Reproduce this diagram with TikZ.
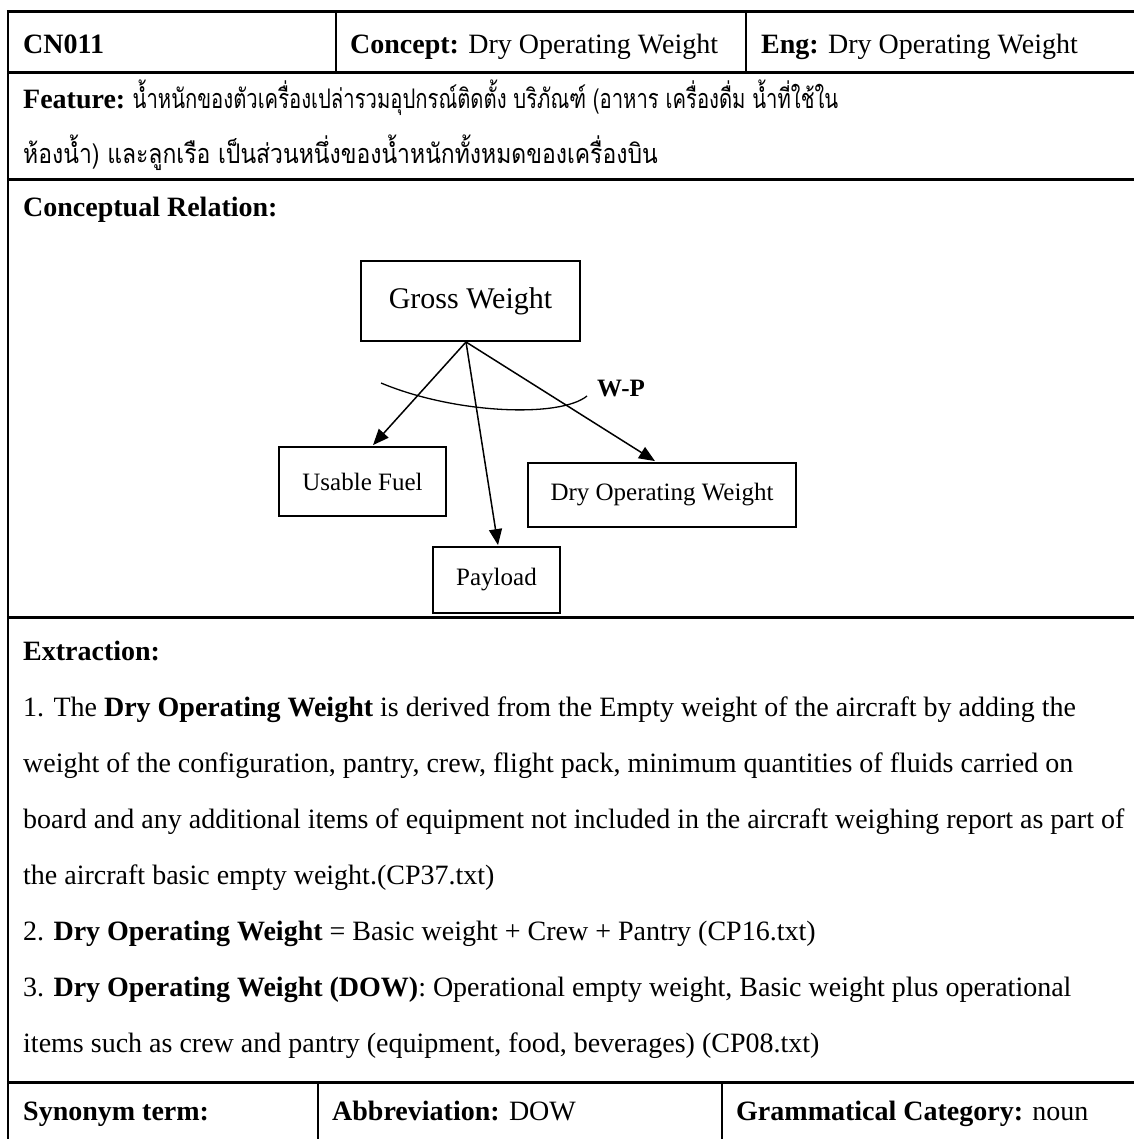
\documentclass[tikz,border=0pt]{standalone}
\usepackage{fontspec}
\setmainfont{Liberation Serif}
\newfontfamily\thaifont[Script=Thai]{Loma}
\usetikzlibrary{arrows.meta}
\begin{document}
\begin{tikzpicture}[x=1pt,y=-1pt,
  vrule/.style={line width=2.4pt},
  hrule/.style={line width=3pt},
  txt/.style={anchor=base west, inner sep=0pt, font=\fontsize{28}{34}\selectfont},
  thai/.style={txt, font=\fontsize{27}{32}\thaifont},
  cbox/.style={draw, line width=1.8pt, inner sep=0pt, font=\fontsize{25}{30}\selectfont},
  rel/.style={line width=1.5pt, -{Triangle[length=16pt,width=13pt]}},
  arcline/.style={line width=1.3pt},
]
\useasboundingbox (0,0) rectangle (1133,1139);
\fill[white] (0,0) rectangle (1133,1139);

% table frame and row separators
\draw[hrule] (6.8,12) -- (1145,12);
\draw[hrule] (6.8,73) -- (1145,73);
\draw[hrule] (6.8,180) -- (1145,180);
\draw[hrule] (6.8,617) -- (1145,617);
\draw[hrule] (6.8,1082) -- (1145,1082);
\draw[vrule] (8,10.5) -- (8,1150);
% cell dividers of the first and last rows
\draw[vrule] (336,12) -- (336,73);
\draw[vrule] (746,12) -- (746,73);
\draw[vrule] (318,1082) -- (318,1150);
\draw[vrule] (722,1082) -- (722,1150);

% first row
\node[txt] (id) at (23,54) {\textbf{CN011}};
\node[txt] (concept) at (350,54) {\textbf{Concept:} Dry Operating Weight};
\node[txt] (eng) at (761,54) {\textbf{Eng:} Dry Operating Weight};

% feature
\node[txt] (featlbl) at (23,109) {\textbf{Feature:}};
\node[thai, anchor=base west] (feat1) at ([xshift=7pt]featlbl.base east) {\scalebox{0.75}[1]{น้ำหนักของตัวเครื่องเปล่ารวมอุปกรณ์ติดตั้ง บริภัณฑ์ (อาหาร เครื่องดื่ม น้ำที่ใช้ใน}};
\node[thai] (feat2) at (23,164) {\scalebox{0.85}[1]{ห้องน้ำ) และลูกเรือ เป็นส่วนหนึ่งของน้ำหนักทั้งหมดของเครื่องบิน}};

% conceptual relation
\node[txt] (crel) at (23,217) {\textbf{Conceptual Relation:}};
\node[cbox, minimum width=219pt, minimum height=80pt, font=\fontsize{30}{36}\selectfont] (gw) at (470.5,301) {Gross Weight};
\node[cbox, minimum width=167pt, minimum height=69pt] (uf) at (362.5,481.5) {Usable Fuel};
\node[cbox, minimum width=127pt, minimum height=66pt] (pl) at (496.5,580) {Payload};
\node[cbox, minimum width=268pt, minimum height=64pt] (dow) at (662,495) {Dry Operating Weight};
\coordinate (hub) at (466,342);
\draw[rel] (hub) -- ([xshift=10.5pt,yshift=1pt]uf.north);
\draw[rel] (hub) -- ([xshift=1.5pt,yshift=1pt]pl.north);
\draw[rel] (hub) -- ([xshift=-7pt,yshift=1pt]dow.north);
\coordinate (wpA) at (381,383);
\coordinate (wpB) at (587,396);
\draw[arcline] (wpA) .. controls (455,414) and (560,418) .. (wpB);
\node[anchor=west, inner sep=0pt, font=\bfseries\fontsize{25}{30}\selectfont] (wp) at (597,389) {W-P};

% extraction
\node[txt] (exlbl) at (23,660) {\textbf{Extraction:}};
\node[txt] (ex1) at (23,716) {1. The \textbf{Dry Operating Weight} is derived from the Empty weight of the aircraft by adding the};
\node[txt] (ex2) at (23,772) {weight of the configuration, pantry, crew, flight pack, minimum quantities of fluids carried on};
\node[txt] (ex3) at (23,828) {board and any additional items of equipment not included in the aircraft weighing report as part of};
\node[txt] (ex4) at (23,884) {the aircraft basic empty weight.(CP37.txt)};
\node[txt] (ex5) at (23,940) {2. \textbf{Dry Operating Weight} = Basic weight + Crew + Pantry (CP16.txt)};
\node[txt] (ex6) at (23,996) {3. \textbf{Dry Operating Weight (DOW)}: Operational empty weight, Basic weight plus operational};
\node[txt] (ex7) at (23,1052) {items such as crew and pantry (equipment, food, beverages) (CP08.txt)};

% last row
\node[txt] (syn) at (23,1120) {\textbf{Synonym term:}};
\node[txt] (abbr) at (332,1120) {\textbf{Abbreviation:} DOW};
\node[txt] (gram) at (736,1120) {\textbf{Grammatical Category:} noun};
\end{tikzpicture}
\end{document}
